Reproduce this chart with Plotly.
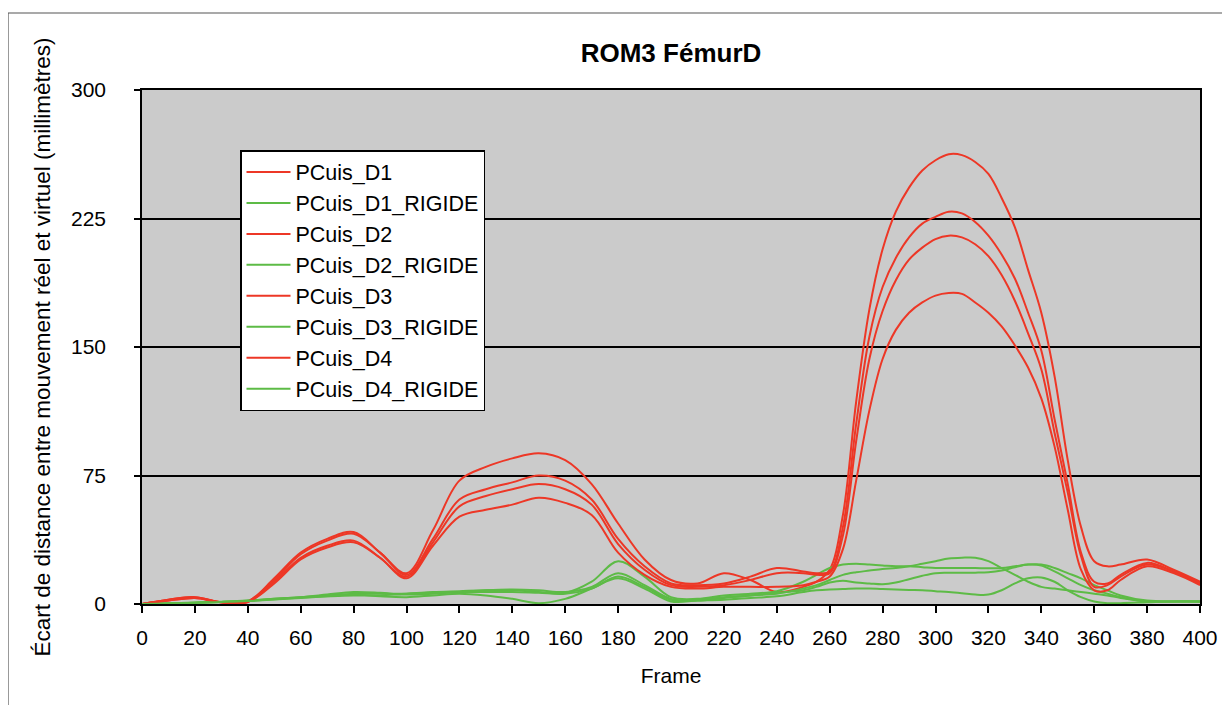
import plotly.graph_objects as go

frames = [0, 10, 20, 30, 40, 50, 60, 70, 80, 90, 100, 110, 120, 130, 140, 150, 160, 170, 180, 190,
          200, 210, 220, 230, 240,
          250, 255, 260, 265, 270, 275, 280, 285, 290, 295, 300, 305, 310, 315, 320, 325, 330, 335,
          340, 345, 350, 355, 360, 365,
          370, 380, 390, 400]

pcuis_d1 = [0, 2.5, 4, 1, 1.5, 15, 30, 38, 42, 30, 18, 43, 72, 80, 85, 88, 84, 70, 47, 26, 14, 12, 18, 14, 7,
            10, 13, 20, 52, 118, 172, 207, 229, 243, 253, 259, 262.5, 262, 258, 251, 237, 220, 195, 170, 133, 84, 45, 25, 22,
            23, 26, 20, 13]
pcuis_d2 = [0, 2.5, 4, 1, 1.5, 14, 29, 37, 41, 30, 17, 38, 61, 67, 71, 75, 72, 61, 38, 22, 12, 11, 12, 16, 21,
            19, 18, 19, 45, 105, 156, 185, 202, 214, 222, 226, 229, 228, 223, 215, 204, 190, 170, 148, 108, 70, 30, 13, 12,
            17, 24, 19, 12]
pcuis_d3 = [0, 2, 3.5, 1, 1.2, 13, 27, 34, 37, 27, 16, 36, 57, 63, 67, 70, 67, 58, 35, 20, 11, 10, 11, 14, 18,
            18, 17, 18, 40, 95, 143, 171, 189, 201, 208, 213, 215, 214, 210, 203, 192, 177, 158, 137, 100, 65, 28, 10, 11,
            16, 23, 19, 12]
pcuis_d4 = [0, 2, 3.5, 1, 1.2, 12, 26, 33, 36, 27, 15, 34, 51, 55, 58, 62, 59, 52, 30, 17, 10, 9, 10, 10, 10,
            11, 13, 16, 32, 72, 113, 143, 160, 170, 176, 180, 181.5, 181, 176, 170, 162, 151, 138, 120, 92, 55, 20, 8, 8,
            14, 22, 18, 11]

pcuis_d1_rigide = [0, 0.3, 0.8, 1.2, 2, 3, 4, 5, 6, 6, 6, 7, 7.5, 8, 8, 7, 6.5, 13, 25, 16, 4, 3, 5, 6, 7.5,
                   13, 17, 21, 23, 23.5, 23, 22.5, 22, 22, 21.5, 21, 21, 21, 21, 20.8, 21, 22, 23, 23, 21, 18, 15, 11, 8,
                   5, 2, 1.5, 1.5]
pcuis_d2_rigide = [0, 0.3, 0.8, 1.3, 2, 3, 4, 5.5, 7, 6.5, 5.5, 6, 7, 8, 8.5, 8, 7, 10, 18, 11, 3, 2, 3.5, 5, 6,
                   9, 11, 14, 17, 18.5, 19.5, 20.5, 21, 22, 23.5, 25, 26.5, 27, 27, 25, 21, 17, 13, 10, 9, 8, 7, 6, 5,
                   3.5, 1.5, 1.5, 1.5]
pcuis_d3_rigide = [0, 0.3, 0.8, 1.2, 1.8, 2.8, 3.8, 4.5, 5, 5, 6, 6.5, 7, 7, 7, 6.5, 6, 9, 16, 10, 2.5, 2.5, 4, 5, 6.5,
                   8, 10, 12.5, 13.5, 12.5, 12, 11.5, 12.5, 14.5, 16.5, 18, 18.2, 18.3, 18.3, 18.5, 19.5, 21.5, 23, 22.5, 19, 15, 11, 8, 6,
                   4, 1.5, 1.5, 1.5]
pcuis_d4_rigide = [0, 0.3, 0.7, 1.1, 1.7, 2.6, 3.5, 4.5, 5.5, 4.5, 4, 5, 6, 5, 3, 0.5, 3, 9, 15, 9, 1.5, 2, 2.5, 3.5, 4.5,
                   7, 8, 8.5, 8.7, 9, 9, 8.7, 8.5, 8.2, 8, 7.5, 7, 6.3, 5.5, 5.5, 8, 12, 15, 15.5, 13, 8, 4, 1.5, 0.5,
                   0.5, 1, 1.5, 1.5]

x_ticks = list(range(0, 401, 20))
y_ticks = [0, 75, 150, 225, 300]

RED = "#ED3726"
GREEN = "#5DBB46"
FONT = "Liberation Sans, Arial, Helvetica, sans-serif"

series = [
    ("PCuis_D1", pcuis_d1, RED),
    ("PCuis_D1_RIGIDE", pcuis_d1_rigide, GREEN),
    ("PCuis_D2", pcuis_d2, RED),
    ("PCuis_D2_RIGIDE", pcuis_d2_rigide, GREEN),
    ("PCuis_D3", pcuis_d3, RED),
    ("PCuis_D3_RIGIDE", pcuis_d3_rigide, GREEN),
    ("PCuis_D4", pcuis_d4, RED),
    ("PCuis_D4_RIGIDE", pcuis_d4_rigide, GREEN),
]

fig = go.Figure()
for name, vals, col in series:
    fig.add_trace(go.Scatter(
        x=frames, y=vals, name=name, mode="lines",
        line=dict(color=col, width=2, shape="spline", smoothing=1.0),
    ))

# page body has an 8px margin: figure origin sits at (8, 8) on the page
OFF = 8
W, H = 1222, 697
L, R, T, B = 142 - OFF, 30, 90 - OFF, 101
pw = W - L - R
ph = H - T - B
bottom_page = 604

fig.update_layout(
    width=W, height=H,
    margin=dict(l=L, r=R, t=T, b=B, autoexpand=False),
    paper_bgcolor="white",
    plot_bgcolor="#CBCBCB",
    font=dict(family=FONT, size=21, color="black"),
    title=dict(text="ROM3 FémurD", x=(671 - OFF) / W, xanchor="center",
               y=1 - (53 - OFF) / H, yanchor="middle", yref="container",
               font=dict(family=FONT, size=26, color="black", weight="bold")),
    showlegend=True,
    legend=dict(
        x=(240 - 142) / pw, y=(bottom_page - 150) / ph, xanchor="left", yanchor="top",
        bgcolor="white", bordercolor="black", borderwidth=1.5,
        font=dict(family=FONT, size=21.5, color="black"),
        tracegroupgap=0, itemwidth=44,
    ),
    xaxis=dict(
        range=[0, 400], tickvals=x_ticks, ticktext=[str(v) for v in x_ticks],
        showgrid=False, zeroline=False,
        showline=True, linecolor="black", linewidth=1.5, mirror=True,
        ticks="outside", ticklen=14, tickwidth=1, tickcolor="rgba(0,0,0,0)",
        minor=dict(ticks="outside", ticklen=7, tickwidth=1.5, tickcolor="black",
                   tickvals=x_ticks, showgrid=False),
        title=dict(text="Frame", font=dict(family=FONT, size=21), standoff=20),
        automargin=False,
    ),
    yaxis=dict(
        range=[0, 300], tickvals=y_ticks, ticktext=[str(v) for v in y_ticks],
        showgrid=True, gridcolor="black", gridwidth=1.5, zeroline=False,
        showline=True, linecolor="black", linewidth=1.5, mirror=True,
        ticks="outside", ticklen=30, tickwidth=1, tickcolor="rgba(0,0,0,0)",
        minor=dict(ticks="outside", ticklen=6, tickwidth=1.5, tickcolor="black",
                   tickvals=y_ticks, showgrid=False),
        title=dict(text="Écart de distance entre mouvement réel et virtuel (millimètres)",
                   font=dict(family=FONT, size=22.5), standoff=14),
        automargin=False,
    ),
    shapes=[dict(
        type="rect", xref="paper", yref="paper",
        x0=(8 - 142) / pw, x1=(1260 - 142) / pw,
        y0=(bottom_page - 740) / ph, y1=(bottom_page - 13) / ph,
        line=dict(color="#555555", width=1.2), fillcolor="rgba(0,0,0,0)", layer="below",
    )],
)

fig.write_html("out.html")
